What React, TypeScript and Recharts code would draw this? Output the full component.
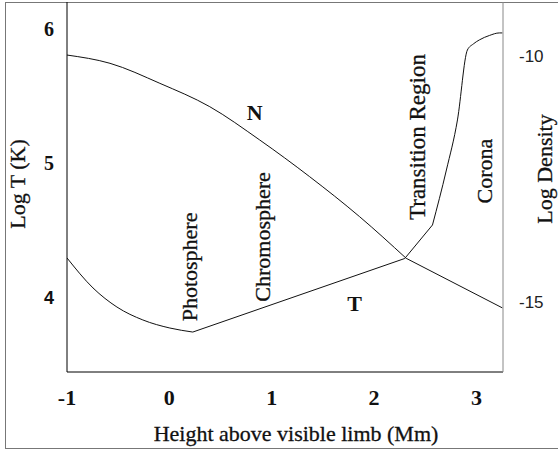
import React from 'react';
import {
  LineChart,
  Line,
  XAxis,
  YAxis,
  Label,
  ReferenceDot,
} from 'recharts';

// temperature profile (Log T, left axis), split where the curve has corners
const tLowX = [-1, -0.746, -0.512, -0.259, 0.005, 0.229];
const tLowY = [4.294, 4.071, 3.929, 3.833, 3.773, 3.743];
const tMidX = [0.229, 2.3, 2.571];
const tMidY = [3.743, 4.29, 4.539];
const tHighX = [2.571, 2.707, 2.815, 2.912, 2.97, 3.029, 3.127, 3.224, 3.254];
const tHighY = [4.539, 4.948, 5.32, 5.84, 5.885, 5.915, 5.948, 5.967, 5.967];

// density profile (Log Density, right axis)
const nX = [-1, -0.58, -0.093, 0.395, 0.883, 1.371, 1.859, 2.314];
const nY = [-9.98, -10.148, -10.555, -11.03, -11.707, -12.453, -13.266, -14.112];
const nTailX = [2.314, 3.254];
const nTailY = [-14.112, -15.12];

const xTicks = [-1, 0, 1, 2, 3];
const leftTicks = [4, 5, 6];
const rightTicks = [-15, -10];

const regionNames = ['Photosphere', 'Chromosphere', 'Transition Region', 'Corona'];
const regionX = [0.2, 0.912, 2.424, 3.078];
const regionY = [4.227, 4.45, 5.193, 4.94];

const pairs = (xs: number[], ys: number[], key: string) => xs.map((x, i) => ({ x, [key]: ys[i] }));

const serif = '"Liberation Serif", "Times New Roman", serif';
const sans = '"Liberation Sans", Arial, sans-serif';

const LeftTick = (props: any) => {
  const { x, y, payload } = props;
  const isSans = payload.value === 4;
  return (
    <text x={x} y={y} dy="0.355em" textAnchor="end" fontFamily={isSans ? sans : serif}
      fontWeight="bold" fontSize={isSans ? 18 : 20} fill="#111">
      {payload.value}
    </text>
  );
};

const RightTick = (props: any) => {
  const { x, y, payload } = props;
  return (
    <text x={x} y={y} dy="0.355em" textAnchor="start" fontFamily={sans} fontSize={17} fill="#222">
      {payload.value}
    </text>
  );
};

const BottomTick = (props: any) => {
  const { x, y, payload } = props;
  return (
    <text x={x} y={y} dy="0.71em" textAnchor="middle" fontFamily={serif} fontWeight="bold" fontSize={22} fill="#111">
      {payload.value}
    </text>
  );
};

const textStyle = { fontFamily: serif, fill: '#111', stroke: '#111', strokeWidth: 0.3 };

const rotated = (value: string, dx: number, cyFixed?: number) => (props: any) => {
  const vb = props.viewBox;
  const cx = vb.x + dx;
  const cy = cyFixed ?? vb.y + vb.height / 2;
  return (
    <text x={cx} y={cy} transform={`rotate(-90 ${cx} ${cy})`} textAnchor="middle"
      dominantBaseline="central" fontSize={22} style={textStyle}>
      {value}
    </text>
  );
};

const centered = (value: string, angle: number, bold: boolean, size: number) => (props: any) => {
  const vb = props.viewBox;
  const cx = vb.x + vb.width / 2;
  const cy = vb.y + vb.height / 2;
  return (
    <text x={cx} y={cy} transform={angle ? `rotate(${angle} ${cx} ${cy})` : undefined} textAnchor="middle"
      dominantBaseline="central" fontWeight={bold ? 'bold' : 'normal'} fontSize={size}
      style={bold ? { fontFamily: serif, fill: '#111' } : textStyle}>
      {value}
    </text>
  );
};

const lineProps = { type: 'monotoneX' as const, dot: false, stroke: '#111', strokeWidth: 1, isAnimationActive: false };

export default function App() {
  return (
    <div style={{ position: 'absolute', left: 0, top: 0, width: 558, height: 451, overflow: 'hidden', background: '#fff' }}>
      <div style={{ position: 'absolute', left: 5, top: 2, width: 600, height: 447, border: '1px solid #777', boxSizing: 'border-box' }} />
      <div style={{ position: 'absolute', left: 0, top: 0 }}>
        <LineChart width={558} height={451} margin={{ top: 2, left: 5, right: 5, bottom: 9 }}>
          <XAxis type="number" dataKey="x" domain={[-1, 3.26]} ticks={xTicks} allowDataOverflow
            tickLine={false} axisLine={{ stroke: '#000' }} tick={<BottomTick />} tickMargin={11} height={70}>
            <Label position="insideBottom" offset={0} content={(p: any) => {
              const vb = p.viewBox;
              return (
                <text x={vb.x + vb.width / 2 + 11} y={vb.y + vb.height - 1} textAnchor="middle"
                  fontSize={22} style={textStyle}>Height above visible limb (Mm)</text>
              );
            }} />
          </XAxis>
          <YAxis yAxisId="left" type="number" domain={[3.446, 6.197]} ticks={leftTicks} allowDataOverflow
            tickLine={false} axisLine={{ stroke: '#000' }} tick={<LeftTick />} tickMargin={7} width={62}>
            <Label position="insideLeft" content={rotated('Log T (K)', 12, 184)} />
          </YAxis>
          <YAxis yAxisId="right" orientation="right" type="number" domain={[-16.423, -8.902]} ticks={rightTicks} allowDataOverflow
            tickLine={false} axisLine={{ stroke: '#888' }} tick={<RightTick />} tickMargin={10} width={50}>
            <Label position="insideRight" content={rotated('Log Density', 41, 169)} />
          </YAxis>
          <Line yAxisId="left" data={pairs(tLowX, tLowY, 't')} dataKey="t" {...lineProps} />
          <Line yAxisId="left" data={pairs(tMidX, tMidY, 't')} dataKey="t" {...lineProps} type="linear" />
          <Line yAxisId="left" data={pairs(tHighX, tHighY, 't')} dataKey="t" {...lineProps} />
          <Line yAxisId="right" data={pairs(nX, nY, 'n')} dataKey="n" {...lineProps} />
          <Line yAxisId="right" data={pairs(nTailX, nTailY, 'n')} dataKey="n" {...lineProps} type="linear" />
          <ReferenceDot yAxisId="left" x={0.834} y={5.379} r={1} fill="none" stroke="none" label={{ content: centered('N', 0, true, 22) }} />
          <ReferenceDot yAxisId="left" x={1.81} y={3.952} r={1} fill="none" stroke="none" label={{ content: centered('T', 0, true, 22) }} />
          {regionNames.map((name, i) => (
            <ReferenceDot key={name} yAxisId="left" x={regionX[i]} y={regionY[i]} r={1} fill="none" stroke="none"
              label={{ content: centered(name, -90, false, i === 2 ? 23 : 22) }} />
          ))}
        </LineChart>
      </div>
    </div>
  );
}
